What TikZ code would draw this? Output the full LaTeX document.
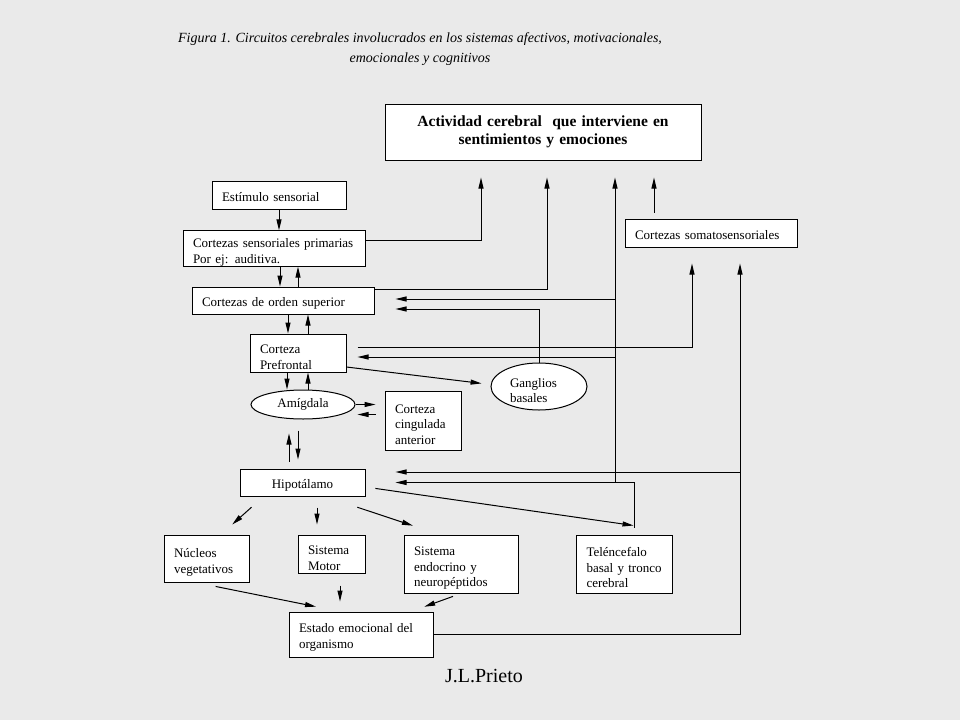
\documentclass[tikz,border=0pt]{standalone}
\usepackage{fontspec}
\setmainfont{Liberation Serif}
\usetikzlibrary{arrows.meta,shapes.geometric}
\definecolor{fondo}{RGB}{234,234,234}
\begin{document}
\begin{tikzpicture}[x=1pt, y=-1pt, line width=1pt, >={Triangle[length=11pt,width=5pt]},
    caja/.style={draw, fill=white, align=left, inner xsep=10pt, inner ysep=0pt,
      execute at begin node={\rule{0pt}{#1}}},
    caja/.default=17pt,
    elipse/.style={ellipse, draw, fill=white, inner sep=0pt}]
        \tikzstyle{every node}=[font=\fontsize{13}{15.5}\selectfont]
        \fill[fondo] (0,0) rectangle (960,720);
        \useasboundingbox (0,0) rectangle (960,720);

          \node[align=center, font=\itshape\fontsize{14}{20}\selectfont] (titulo) at (420,49) {Figura 1. Circuitos cerebrales involucrados en los sistemas afectivos, motivacionales,\\ emocionales y cognitivos};
          \node[draw, fill=white, align=center, inner xsep=10pt, text width=296pt, minimum height=56pt, font=\bfseries\fontsize{15.5}{18}\selectfont] (act) at (543,132) {Actividad cerebral \ que interviene en\\ sentimientos y emociones};
          \node[caja=14pt, text width=114pt, minimum height=28pt] (estim) at (279,195) {Estímulo sensorial};
          \node[caja, text width=162pt, minimum height=35pt] (sens) at (274,248.5) {Cortezas sensoriales primarias\\ Por ej: auditiva.};
          \node[caja=14pt, text width=162pt, minimum height=27pt] (sup) at (283,300.5) {Cortezas de orden superior};
          \node[caja, text width=76pt, minimum height=38pt] (pref) at (298,353) {Corteza\\ Prefrontal};
          \node[elipse, minimum width=104pt, minimum height=29pt] (amig) at (303,404.5) {Amígdala};
          \node[caja, text width=56pt, minimum height=59pt] (cing) at (423,420.5) {Corteza\\ cingulada\\ anterior};
          \node[elipse, align=left, text width=58pt, minimum width=96pt, minimum height=47pt,
            execute at begin node={\rule{0pt}{17pt}}] (gang) at (539,386.5) {Ganglios\\ basales};
          \node[caja=15pt, align=center, text width=105pt, minimum height=27pt] (hipo) at (302.5,482.5) {Hipotálamo};
          \node[caja, text width=65pt, minimum height=47pt] (nucl) at (206.5,558.5) {Núcleos\\ vegetativos};
          \node[caja, text width=47pt, minimum height=38pt] (motor) at (331.5,554) {Sistema\\ Motor};
          \node[caja, text width=94pt, minimum height=58pt] (endo) at (461,564) {Sistema\\ endocrino y\\ neuropéptidos};
          \node[caja, text width=76pt, minimum height=58pt] (tel) at (624.5,564) {Teléncefalo\\ basal y tronco\\ cerebral};
          \node[caja=15pt, text width=124pt, minimum height=45pt] (estado) at (361,634.5) {Estado emocional del\\ organismo};
          \node[caja=14pt, text width=152pt, minimum height=28pt] (soma) at (711,233) {Cortezas somatosensoriales};
          \node[font=\fontsize{20}{24}\selectfont] (firma) at (484,676) {J.L.Prieto};

          % cadena vertical
          \draw[->] (estim.south) -- (estim.south |- sens.north);
          \draw[->] ([xshift=6pt]sens.south) -- ([xshift=6pt]sens.south |- sup.north);
          \draw[->] ([xshift=15pt]sup.north) -- ([xshift=15pt]sup.north |- sens.south);
          \draw[->] ([xshift=5pt]sup.south) -- ([xshift=5pt]sup.south |- pref.north);
          \draw[->] ([xshift=10pt]pref.north) -- ([xshift=10pt]pref.north |- sup.south);
          \draw[->] ([xshift=-11pt]pref.south) -- ([xshift=-11pt]pref.south |- amig.north);
          \draw[->] ([xshift=10pt]pref.south |- amig.north) -- ([xshift=10pt]pref.south);
          \draw[->, shorten <=7pt, shorten >=14pt] ([xshift=-13.5pt]hipo.north) -- ([xshift=-13.5pt]hipo.north |- amig.south);
          \draw[->, shorten <=11pt, shorten >=9pt] ([xshift=-4.5pt]hipo.north |- amig.south) -- ([xshift=-4.5pt]hipo.north);
          \draw[->, shorten >=9pt] (amig.east) -- (amig.east -| cing.west);
          \draw[->, shorten <=9pt, shorten >=2pt] ([yshift=-10pt]amig.east -| cing.west) -- ([yshift=-10pt]amig.east);
          \draw[->, shorten >=9pt] ([yshift=-14pt]pref.east) -- ([yshift=2pt]gang.west);

          % hacia la actividad cerebral
          \draw[->, shorten >=17pt] ([yshift=8pt]sens.east) -| ([xshift=-62pt]act.south);
          \draw[->, shorten >=17pt] ([yshift=11pt]sup.east) -| ([xshift=4pt]act.south);
          \draw[->, shorten <=6pt, shorten >=17pt] ([xshift=-57pt]soma.north) -- ([xshift=-57pt]soma.north |- act.south);
          \coordinate (nudo) at ([xshift=72pt]act.south |- hipo.east);
          \draw[->, shorten <=7pt, shorten >=30pt] ([xshift=9.5pt]tel.north) |- (hipo.east);
          \draw[->, shorten >=17pt] (nudo) -- ([xshift=72pt]act.south);
          \draw[->, shorten >=21pt] ([yshift=1.5pt]nudo |- sup.east) -- ([yshift=1.5pt]sup.east);
          \draw[->, shorten >=11pt] ([yshift=-4pt]nudo |- pref.east) -- ([yshift=-4pt]pref.east);
          \draw[->, shorten >=21pt] (gang.north) |- ([yshift=-8.5pt]sup.east);

          % somatosensoriales
          \draw[->, shorten <=11pt, shorten >=16pt] ([yshift=6pt]pref.east) -| ([xshift=-19pt]soma.south);
          \coordinate (der) at ([xshift=29pt]soma.south);
          \draw[->, shorten >=16pt] (estado.east) -| (der);
          \draw[->, shorten >=30pt] ([yshift=10.5pt]hipo.east -| der) -- ([yshift=10.5pt]hipo.east);

          % salidas del hipotalamo
          \draw[->, shorten <=10pt] ([yshift=-4.5pt]hipo.east) -- ([xshift=9pt, yshift=9pt]tel.north);
          \draw[->, shorten <=16pt, shorten >=15pt] ([xshift=24pt]hipo.south west) -- ([xshift=14.5pt]nucl.north);
          \draw[->, shorten <=11pt, shorten >=10pt] ([xshift=14.5pt]hipo.south) -- ([xshift=14.5pt]hipo.south |- motor.north);
          \draw[->, shorten <=34pt, shorten >=28pt] ([xshift=22.5pt]hipo.south) -- ([xshift=-21.5pt]endo.north);

          % hacia el estado emocional
          \draw[->, shorten <=20pt, shorten >=24.5pt] ([xshift=-10.5pt]nucl.south) -- ([xshift=-21pt]estado.north);
          \draw[->, shorten <=12pt, shorten >=10pt] ([xshift=8.5pt]motor.south) -- ([xshift=8.5pt]motor.south |- estado.north);
          \draw[->, shorten <=8.5pt, shorten >=14pt] (endo.south) -- ([xshift=50pt]estado.north);

        \end{tikzpicture}
\end{document}
